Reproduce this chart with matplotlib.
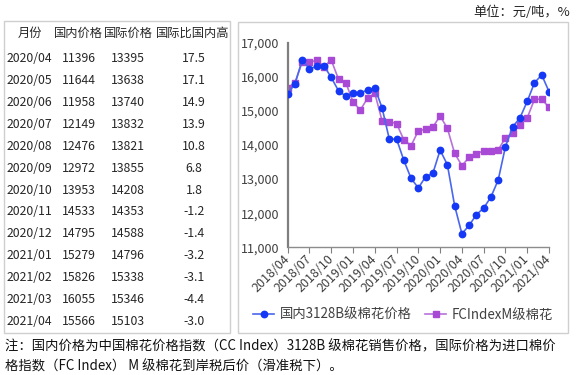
import matplotlib
matplotlib.use("Agg")
import matplotlib.pyplot as plt
from matplotlib.patches import Rectangle
from matplotlib.ticker import FuncFormatter, FixedLocator
from matplotlib.transforms import offset_copy
import pandas as pd

plt.rcParams["font.family"] = ["Noto Sans CJK SC", "DejaVu Sans"]

W, H = 576, 375

# monthly series, 2018/04 .. 2021/04
months = [p.strftime("%Y/%m") for p in pd.period_range("2018-04", "2021-04", freq="M")]
domestic = [15510, 15790, 16490, 16230, 16310, 16320, 15980, 15590, 15430, 15520,
            15530, 15610, 15680, 15090, 14170, 14175, 13550, 13020, 12740, 13070,
            13170, 13850, 13420, 12220, 11396, 11644, 11958, 12149, 12476, 12972,
            13953, 14533, 14795, 15279, 15826, 16055, 15566]
international = [15670, 15830, 16430, 16420, 16490, 16300, 16490, 15930, 15830, 15265,
                 15025, 15370, 15520, 14710, 14680, 14630, 14150, 13980, 14420, 14460,
                 14530, 14850, 14490, 13755, 13395, 13638, 13740, 13832, 13821, 13855,
                 14208, 14353, 14588, 14796, 15338, 15346, 15103]

# table on the left
tbl_header = ["月份", "国内价格", "国际价格", "国际比国内高"]
tbl_months = ["2020/04", "2020/05", "2020/06", "2020/07", "2020/08", "2020/09", "2020/10",
              "2020/11", "2020/12", "2021/01", "2021/02", "2021/03", "2021/04"]
tbl_dom = [11396, 11644, 11958, 12149, 12476, 12972, 13953, 14533, 14795, 15279, 15826, 16055, 15566]
tbl_intl = [13395, 13638, 13740, 13832, 13821, 13855, 14208, 14353, 14588, 14796, 15338, 15346, 15103]
tbl_diff = ["17.5", "17.1", "14.9", "13.9", "10.8", "6.8", "1.8", "-1.2", "-1.4", "-3.2", "-3.1", "-4.4", "-3.0"]

BLUE_M, BLUE_L = "#1438f5", "#4a66ee"
PURP_M, PURP_L = "#a94ad6", "#b872da"
BOX = "#cfcfcf"
TXT = "#262626"


def fx(x):
    return x / W


def fy(y):
    return 1 - y / H


fig = plt.figure(figsize=(W / 100, H / 100), dpi=100)

# frames
fig.patches.append(Rectangle((fx(4), fy(333)), fx(226), (333 - 21) / H, transform=fig.transFigure,
                             fill=False, edgecolor=BOX, lw=1.0))
fig.patches.append(Rectangle((fx(238), fy(333)), fx(330), (333 - 22) / H, transform=fig.transFigure,
                             fill=False, edgecolor=BOX, lw=1.0))

# table text
fs = 8.8
hx = [30, 78, 128, 193]
for x, t in zip(hx, tbl_header):
    fig.text(fx(x), fy(33.5), t, ha="center", va="center", fontsize=fs, color=TXT)
for i in range(len(tbl_months)):
    y = fy(58.3 + i * 21.95)
    fig.text(fx(6.5), y, tbl_months[i], ha="left", va="center", fontsize=fs, color=TXT)
    fig.text(fx(79), y, str(tbl_dom[i]), ha="center", va="center", fontsize=fs, color=TXT)
    fig.text(fx(128), y, str(tbl_intl[i]), ha="center", va="center", fontsize=fs, color=TXT)
    fig.text(fx(194), y, tbl_diff[i], ha="center", va="center", fontsize=fs, color=TXT)

# unit label
fig.text(fx(570), fy(12), "单位：元/吨，%", ha="right", va="center", fontsize=9.5, color=TXT)

# line chart
ax = fig.add_axes([fx(287.7), fy(247.3), fx(549 - 287.7), (247.3 - 42.7) / H])
xs = list(range(len(months)))
ax.plot(xs, international, color=PURP_L, lw=1.2, marker="s", ms=4.2,
        mfc=PURP_M, mec=PURP_M, label="FCIndexM级棉花", zorder=2)
ax.plot(xs, domestic, color=BLUE_L, lw=1.2, marker="o", ms=4.6,
        mfc=BLUE_M, mec=BLUE_M, label="国内3128B级棉花价格", zorder=3)

ax.set_xlim(0, len(months) - 1)
ax.set_ylim(11000, 17000)
ax.set_yticks(range(11000, 17001, 1000))
ax.yaxis.set_major_formatter(FuncFormatter(lambda v, _: f"{int(v):,}"))
tick_pos = xs[::3]
ax.xaxis.set_major_locator(FixedLocator(tick_pos))
ax.set_xticklabels([months[i] for i in tick_pos], rotation=45, ha="right", va="center",
                   rotation_mode="anchor", fontsize=9, color="#404040")
for lab in ax.get_xticklabels():
    lab.set_transform(offset_copy(lab.get_transform(), fig=fig, x=7, y=-4, units="dots"))
ax.tick_params(axis="y", length=0, pad=6, labelsize=9, labelcolor="#404040")
ax.tick_params(axis="x", length=4, direction="out", color="#808080", pad=3)
for s in ["top", "right"]:
    ax.spines[s].set_visible(False)
ax.spines["left"].set_color("#7f7f7f")
ax.spines["left"].set_linewidth(1.6)
ax.spines["bottom"].set_color("#8c8c8c")
ax.spines["bottom"].set_linewidth(1.0)

h, l = ax.get_legend_handles_labels()
fig.legend(h[::-1], l[::-1], loc="center", bbox_to_anchor=(fx(403), fy(315)), ncol=2,
           frameon=False, fontsize=9.6, handlelength=1.6, columnspacing=1.0,
           handletextpad=0.4, labelcolor="#404040")

# footnote
fig.text(fx(5), fy(346.5), "注：国内价格为中国棉花价格指数（CC Index）3128B 级棉花销售价格，国际价格为进口棉价",
         ha="left", va="center", fontsize=9.6, color="#111111")
fig.text(fx(5), fy(367), "格指数（FC Index） M 级棉花到岸税后价（滑准税下）。",
         ha="left", va="center", fontsize=9.6, color="#111111")

fig.savefig("out.png", dpi=100)
